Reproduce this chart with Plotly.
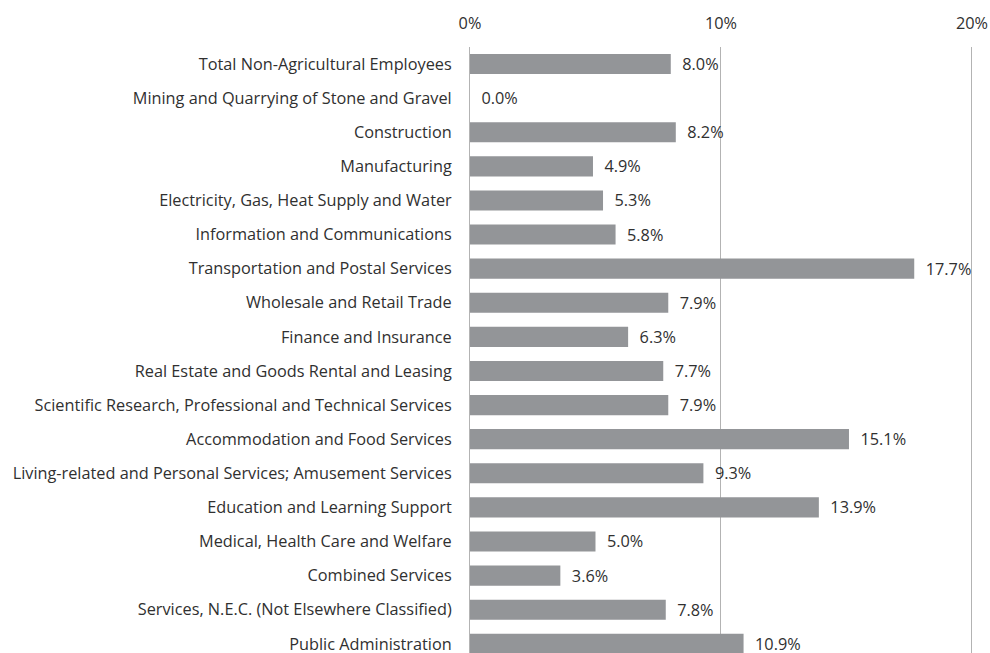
import plotly.graph_objects as go

categories = [
    "Total Non-Agricultural Employees",
    "Mining and Quarrying of Stone and Gravel",
    "Construction",
    "Manufacturing",
    "Electricity, Gas, Heat Supply and Water",
    "Information and Communications",
    "Transportation and Postal Services",
    "Wholesale and Retail Trade",
    "Finance and Insurance",
    "Real Estate and Goods Rental and Leasing",
    "Scientific Research, Professional and Technical Services",
    "Accommodation and Food Services",
    "Living-related and Personal Services; Amusement Services",
    "Education and Learning Support",
    "Medical, Health Care and Welfare",
    "Combined Services",
    "Services, N.E.C. (Not Elsewhere Classified)",
    "Public Administration",
]
values = [8.0, 0.0, 8.2, 4.9, 5.3, 5.8, 17.7, 7.9, 6.3, 7.7, 7.9, 15.1, 9.3, 13.9, 5.0, 3.6, 7.8, 10.9]
tick_vals = [0, 10, 20]
tick_text = ["0%", "10%", "20%"]

FONT = "Open Sans"
SIZE = 16.3
TEXT_COLOR = "#303030"
BAR_COLOR = "#939598"
GRID_COLOR = "#b3b3b3"

fig = go.Figure(
    go.Bar(
        x=values,
        y=categories,
        orientation="h",
        marker=dict(color=BAR_COLOR, line=dict(width=0)),
        width=0.59,
        text=[f"{v:.1f}%" for v in values],
        textposition="outside",
        constraintext="none",
        cliponaxis=False,
        textfont=dict(family=FONT, size=SIZE, color=TEXT_COLOR),
        hoverinfo="skip",
    )
)

# leading spaces give the value labels a little room from the bar ends
fig.update_traces(texttemplate="  %{text}")

fig.update_layout(
    width=990,
    height=653,
    margin=dict(l=470, r=8, t=47, b=0),
    paper_bgcolor="white",
    plot_bgcolor="white",
    showlegend=False,
    font=dict(family=FONT, size=SIZE, color=TEXT_COLOR),
    xaxis=dict(
        side="top",
        range=[0, 20.4],
        tickvals=tick_vals,
        ticktext=tick_text,
        showgrid=True,
        gridcolor=GRID_COLOR,
        gridwidth=1,
        zeroline=False,
        showline=False,
        ticks="",
        tickfont=dict(family=FONT, size=SIZE, color=TEXT_COLOR),
        ticklabelstandoff=14,
        fixedrange=True,
    ),
    yaxis=dict(
        categoryorder="array",
        categoryarray=categories,
        range=[17.27, -0.5],
        showgrid=False,
        zeroline=False,
        showline=True,
        linecolor=GRID_COLOR,
        linewidth=1,
        ticks="",
        tickfont=dict(family=FONT, size=SIZE, color=TEXT_COLOR),
        ticklabelstandoff=14,
        fixedrange=True,
    ),
)

fig.write_html("out.html", config={"displayModeBar": False})
